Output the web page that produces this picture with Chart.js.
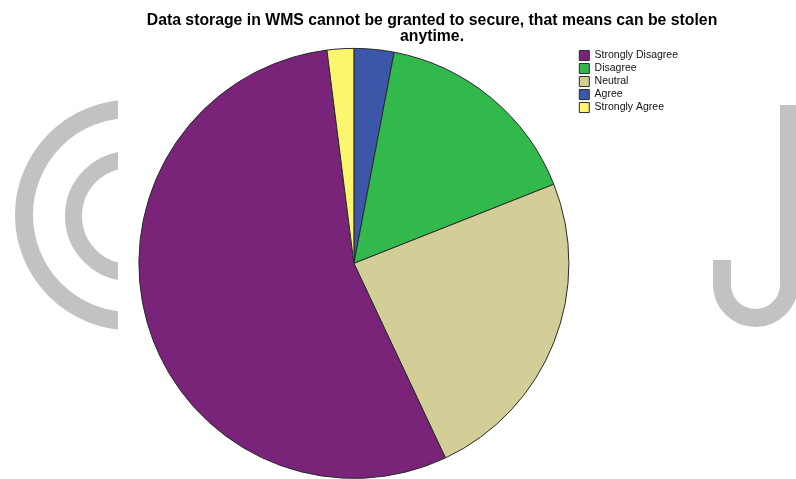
<!DOCTYPE html>
<html>
<head>
<meta charset="utf-8">
<script src="https://cdn.jsdelivr.net/npm/chart.js@4.4.1/dist/chart.umd.min.js"></script>
<style>
  html, body { margin: 0; padding: 0; background: #fff; overflow: hidden; }
  #wrap { width: 796px; height: 479px; }
</style>
</head>
<body>
<div id="wrap"><canvas id="pieChart"></canvas></div>
<script>
// slices in the order they are drawn, clockwise from 12 o'clock
const categories = ['Agree', 'Disagree', 'Neutral', 'Strongly Disagree', 'Strongly Agree'];
const percents = [3, 16, 24, 55, 2];
// order the legend lists them in
const legendOrder = ['Strongly Disagree', 'Disagree', 'Neutral', 'Agree', 'Strongly Agree'];
const titleLines = ['Data storage in WMS cannot be granted to secure, that means can be stolen', 'anytime.'];

const sliceColors = {
    'Strongly Disagree': '#7a2479',
    'Disagree': '#31b94b',
    'Neutral': '#d3ce98',
    'Agree': '#3c56aa',
    'Strongly Agree': '#fbf66d'
};

// grey "(C)" and "J" marks showing at the left and right edges behind the chart
const backdrop = {
    id: 'backdrop',
    beforeDraw(chart) {
        const ctx = chart.ctx;
        ctx.save();
        ctx.strokeStyle = '#c2c2c2';
        ctx.lineWidth = 18;

        ctx.save();
        ctx.beginPath();
        ctx.rect(0, 0, 118, chart.height);
        ctx.clip();
        ctx.beginPath();
        ctx.arc(130, 215, 106, 0, Math.PI * 2);
        ctx.stroke();
        ctx.lineWidth = 17;
        ctx.beginPath();
        ctx.arc(130, 216, 56.5, 0, Math.PI * 2);
        ctx.stroke();
        ctx.restore();

        ctx.beginPath();
        ctx.rect(712, 0, chart.width - 712, chart.height);
        ctx.clip();
        ctx.lineWidth = 18;
        ctx.beginPath();
        ctx.moveTo(789, 105);
        ctx.lineTo(789, 284.5);
        ctx.arc(755.5, 284.5, 33.5, 0, Math.PI);
        ctx.lineTo(722, 260);
        ctx.stroke();
        ctx.restore();
    }
};

// empty box on the right so the pie sits left of the title's centre
const rightGap = {
    id: 'rightGap',
    beforeInit(chart) {
        Chart.layouts.addBox(chart, {
            position: 'right',
            weight: 2000,
            fullSize: false,
            options: {},
            width: 0, height: 0, left: 0, top: 0, right: 0, bottom: 0,
            isHorizontal() { return false; },
            update(maxWidth, maxHeight) {
                this.width = 45;
                this.height = maxHeight;
            },
            draw() {}
        });
    }
};

Chart.defaults.font.family = '"Liberation Sans", Arial, sans-serif';
Chart.defaults.color = '#111';

new Chart(document.getElementById('pieChart'), {
    type: 'pie',
    data: {
        labels: categories,
        datasets: [{
            data: percents,
            backgroundColor: categories.map(c => sliceColors[c]),
            borderColor: '#2a2a2a',
            borderWidth: 1,
            radius: 215
        }]
    },
    options: {
        responsive: true,
        maintainAspectRatio: false,
        animation: false,
        layout: {
            padding: { left: 131, right: 63, top: 0, bottom: 0 }
        },
        plugins: {
            title: {
                display: true,
                text: titleLines,
                color: '#000',
                font: { size: 15.8, weight: 'bold', lineHeight: 1.0 },
                padding: { top: 13, bottom: 3.2 }
            },
            legend: {
                position: 'right',
                align: 'start',
                fullSize: false,
                labels: {
                    boxWidth: 10,
                    boxHeight: 10,
                    padding: 2.5,
                    font: { size: 10.5 },
                    sort: (a, b) => legendOrder.indexOf(a.text) - legendOrder.indexOf(b.text)
                }
            },
            tooltip: { enabled: false }
        }
    },
    plugins: [backdrop, rightGap]
});
</script>
</body>
</html>
